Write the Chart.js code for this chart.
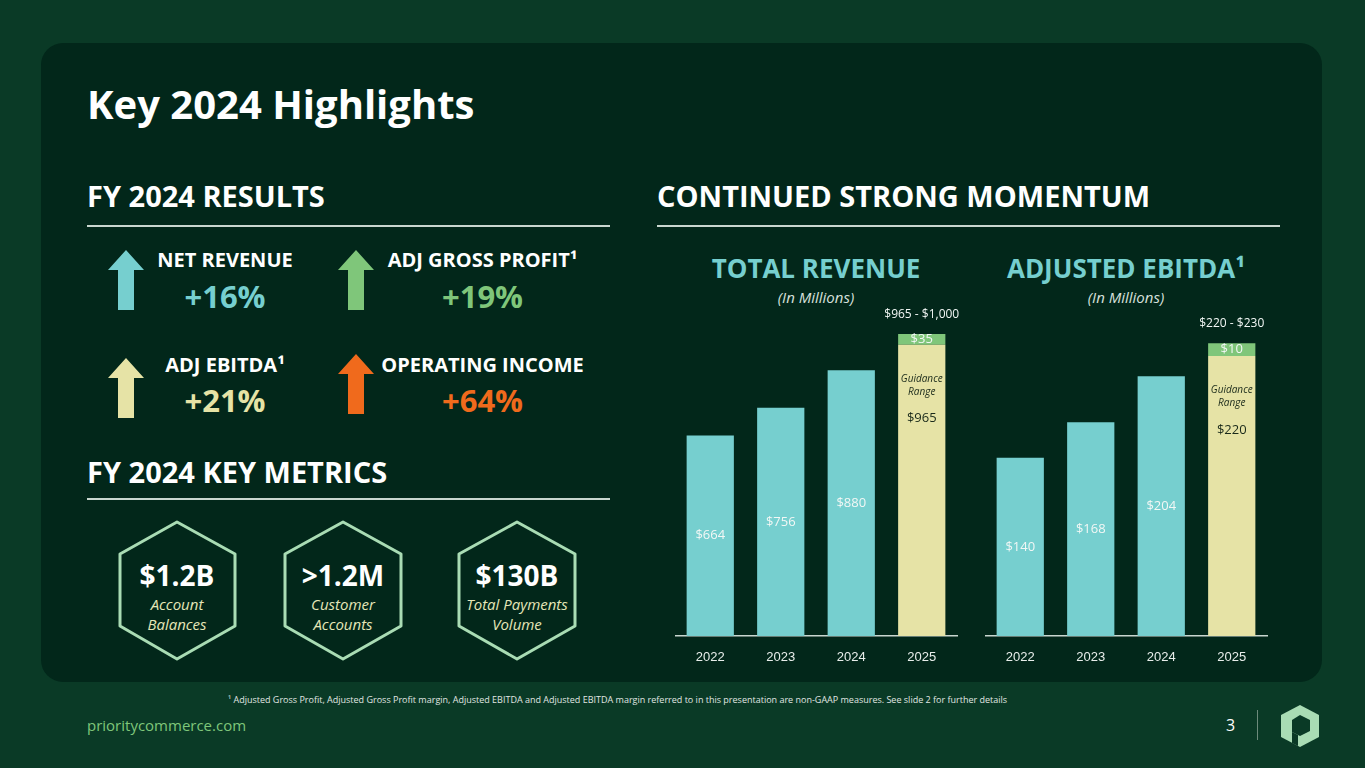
<!DOCTYPE html>
<html lang="en">
<head>
<meta charset="UTF-8">
<title>Key 2024 Highlights</title>
<script src="https://cdn.jsdelivr.net/npm/chart.js"></script>
<style>
  body { margin:0; width:1365px; height:768px; background:#0a3a26; font-family:"Open Sans","Noto Sans",sans-serif; position:relative; overflow:hidden; color:#fff; }
  .panel { position:absolute; left:41px; top:43px; width:1281px; height:639px; background:#02271a; border-radius:22px; }
  .abs { position:absolute; }
  h1 { position:absolute; left:87px; top:76px; margin:0; font-size:40px; font-weight:700; }
  .sec { font-size:29px; font-weight:700; }
  .rule { position:absolute; height:2px; background:#c9d6cf; }
  .lbl { font-size:20px; font-weight:700; text-align:center; }
  .big { font-size:31px; font-weight:700; text-align:center; }
  .ctitle { font-size:26px; font-weight:700; color:#76cfcf; text-align:center; }
  .sub { font-size:15px; font-style:italic; color:#d8e0dc; text-align:center; }
  .hex { position:absolute; width:150px; height:140px; text-align:center; }
  .hex b { display:block; font-size:28px; margin-top:34px; }
  .hex i { display:block; font-size:15px; color:#e5e6b8; line-height:20px; }
  canvas { position:absolute; }
</style>
</head>
<body>
<div class="panel"></div>
<h1>Key 2024 Highlights</h1>
<div class="abs sec" style="left:87px;top:176px">FY 2024 RESULTS</div>
<div class="rule" style="left:87px;top:225px;width:523px"></div>
<div class="abs sec" style="left:657px;top:176px">CONTINUED STRONG MOMENTUM</div>
<div class="rule" style="left:657px;top:225px;width:623px"></div>
<div class="abs sec" style="left:87px;top:452px">FY 2024 KEY METRICS</div>
<div class="rule" style="left:87px;top:498px;width:523px"></div>

<svg class="abs" style="left:105px;top:248px" width="520" height="170">
  <path d="M21 2 L39 22 L29 22 L29 62 L13 62 L13 22 L3 22 Z" fill="#76cfcf"/>
  <path d="M251 2 L269 22 L259 22 L259 62 L243 62 L243 22 L233 22 Z" fill="#7fc67a"/>
  <path d="M21 110 L39 130 L29 130 L29 170 L13 170 L13 130 L3 130 Z" fill="#e6e3a6"/>
  <path d="M251 106 L269 126 L259 126 L259 166 L243 166 L243 126 L233 126 Z" fill="#f06a1c"/>
</svg>
<div class="abs lbl" style="left:140px;top:246px;width:170px">NET REVENUE</div>
<div class="abs big" style="left:140px;top:275px;width:170px;color:#76cfcf">+16%</div>
<div class="abs lbl" style="left:370px;top:246px;width:225px">ADJ GROSS PROFIT¹</div>
<div class="abs big" style="left:370px;top:275px;width:225px;color:#7fc67a">+19%</div>
<div class="abs lbl" style="left:140px;top:351px;width:170px">ADJ EBITDA¹</div>
<div class="abs big" style="left:140px;top:379px;width:170px;color:#e6e3a6">+21%</div>
<div class="abs lbl" style="left:370px;top:351px;width:225px">OPERATING INCOME</div>
<div class="abs big" style="left:370px;top:379px;width:225px;color:#f06a1c">+64%</div>

<svg class="abs" style="left:90px;top:518px" width="520" height="145">
  <g fill="none" stroke="#a9dcb4" stroke-width="3" stroke-linejoin="round">
    <polygon points="87,4 145,36 145,108 87,141 30,108 30,36"/>
    <polygon points="253,4 311,36 311,108 253,141 195,108 195,36"/>
    <polygon points="427,4 485,36 485,108 427,141 369,108 369,36"/>
  </g>
</svg>
<div class="hex" style="left:102px;top:522px"><b>$1.2B</b><i>Account<br>Balances</i></div>
<div class="hex" style="left:268px;top:522px"><b>&gt;1.2M</b><i>Customer<br>Accounts</i></div>
<div class="hex" style="left:442px;top:522px"><b>$130B</b><i>Total Payments<br>Volume</i></div>

<div class="abs ctitle" style="left:675px;top:250px;width:282px">TOTAL REVENUE</div>
<div class="abs sub" style="left:675px;top:287px;width:282px">(In Millions)</div>
<div class="abs ctitle" style="left:985px;top:250px;width:282px">ADJUSTED EBITDA¹</div>
<div class="abs sub" style="left:985px;top:287px;width:282px">(In Millions)</div>

<canvas id="rev" style="left:675px;top:300px"></canvas>
<canvas id="ebitda" style="left:985px;top:300px"></canvas>

<div class="abs" style="left:228px;top:693px;font-size:9px;color:#e0e6e2">¹ Adjusted Gross Profit, Adjusted Gross Profit margin, Adjusted EBITDA and Adjusted EBITDA margin referred to in this presentation are non-GAAP measures. See slide 2 for further details</div>
<div class="abs" style="left:87px;top:715px;font-size:15px;color:#7fc67a">prioritycommerce.com</div>
<div class="abs" style="left:1226px;top:714px;font-size:16px;color:#fff">3</div>
<div class="abs" style="left:1257px;top:710px;width:1px;height:30px;background:#6d8a7b"></div>
<svg class="abs" style="left:1278px;top:703px" width="44" height="46">
  <polygon points="22,2 41,12 41,34 22,44 3,34 3,12" fill="#a9dcb4"/>
  <polygon points="22,12 32,17 32,28 22,33 14,29 14,17" fill="#0a3a26"/>
  <polygon points="14,29 14,40 20,43 20,32" fill="#0a3a26"/>
</svg>

<script>
const years = ['2022', '2023', '2024', '2025'];
const revenue = [664, 756, 880, 965];
const revenueRange = [0, 0, 0, 35];
const ebitda = [140, 168, 204, 220];
const ebitdaRange = [0, 0, 0, 10];

const teal = '#76cfcf', cream = '#e6e3a6', green = '#7fc67a';

function makeChart(id, base, extra, max, rangeText) {
  const c = document.getElementById(id);
  c.width = 300; c.height = 365;
  const labelPlugin = {
    id: 'labels',
    afterDatasetsDraw(chart) {
      const ctx = chart.ctx;
      const m0 = chart.getDatasetMeta(0), m1 = chart.getDatasetMeta(1);
      ctx.save();
      ctx.textAlign = 'center'; ctx.textBaseline = 'middle';
      base.forEach((v, i) => {
        const b = m0.data[i];
        if (i < 3) {
          ctx.fillStyle = '#f2f7f5';
          ctx.font = '13px "Open Sans"';
          ctx.fillText('$' + v, b.x, (b.y + b.base) / 2);
        } else {
          const t = m1.data[i];
          ctx.fillStyle = '#1a2a1a';
          ctx.font = 'italic 10px "Open Sans"';
          ctx.fillText('Guidance', b.x, b.y + 34);
          ctx.fillText('Range', b.x, b.y + 47);
          ctx.font = '13px "Open Sans"';
          ctx.fillText('$' + v, b.x, b.y + 74);
          ctx.fillStyle = '#f2f7f5';
          ctx.fillText('$' + extra[i], t.x, (t.y + t.base) / 2);
          ctx.font = '12px "Open Sans"';
          ctx.fillText(rangeText, t.x, t.y - 20);
        }
      });
      ctx.restore();
    }
  };
  new Chart(c, {
    type: 'bar',
    data: {
      labels: years,
      datasets: [
        { data: base, backgroundColor: base.map((v, i) => i === 3 ? cream : teal) },
        { data: extra, backgroundColor: green }
      ]
    },
    options: {
      responsive: false, animation: false,
      barPercentage: 0.67, categoryPercentage: 1,
      layout: { padding: { right: 18 } },
      plugins: { legend: { display: false }, tooltip: { enabled: false } },
      scales: {
        x: {
          stacked: true,
          grid: { display: false },
          border: { color: '#c9d6cf', width: 1.5 },
          ticks: { color: '#e8eeeb', font: { family: 'Liberation Sans', size: 13 }, padding: 6 },
          afterFit(s) { s.height = 29; }
        },
        y: { stacked: true, display: false, min: 0, max: max }
      }
    },
    plugins: [labelPlugin]
  });
}

makeChart('rev', revenue, revenueRange, 1113, '$965 - $1,000');
makeChart('ebitda', ebitda, ebitdaRange, 264, '$220 - $230');
</script>
</body>
</html>
